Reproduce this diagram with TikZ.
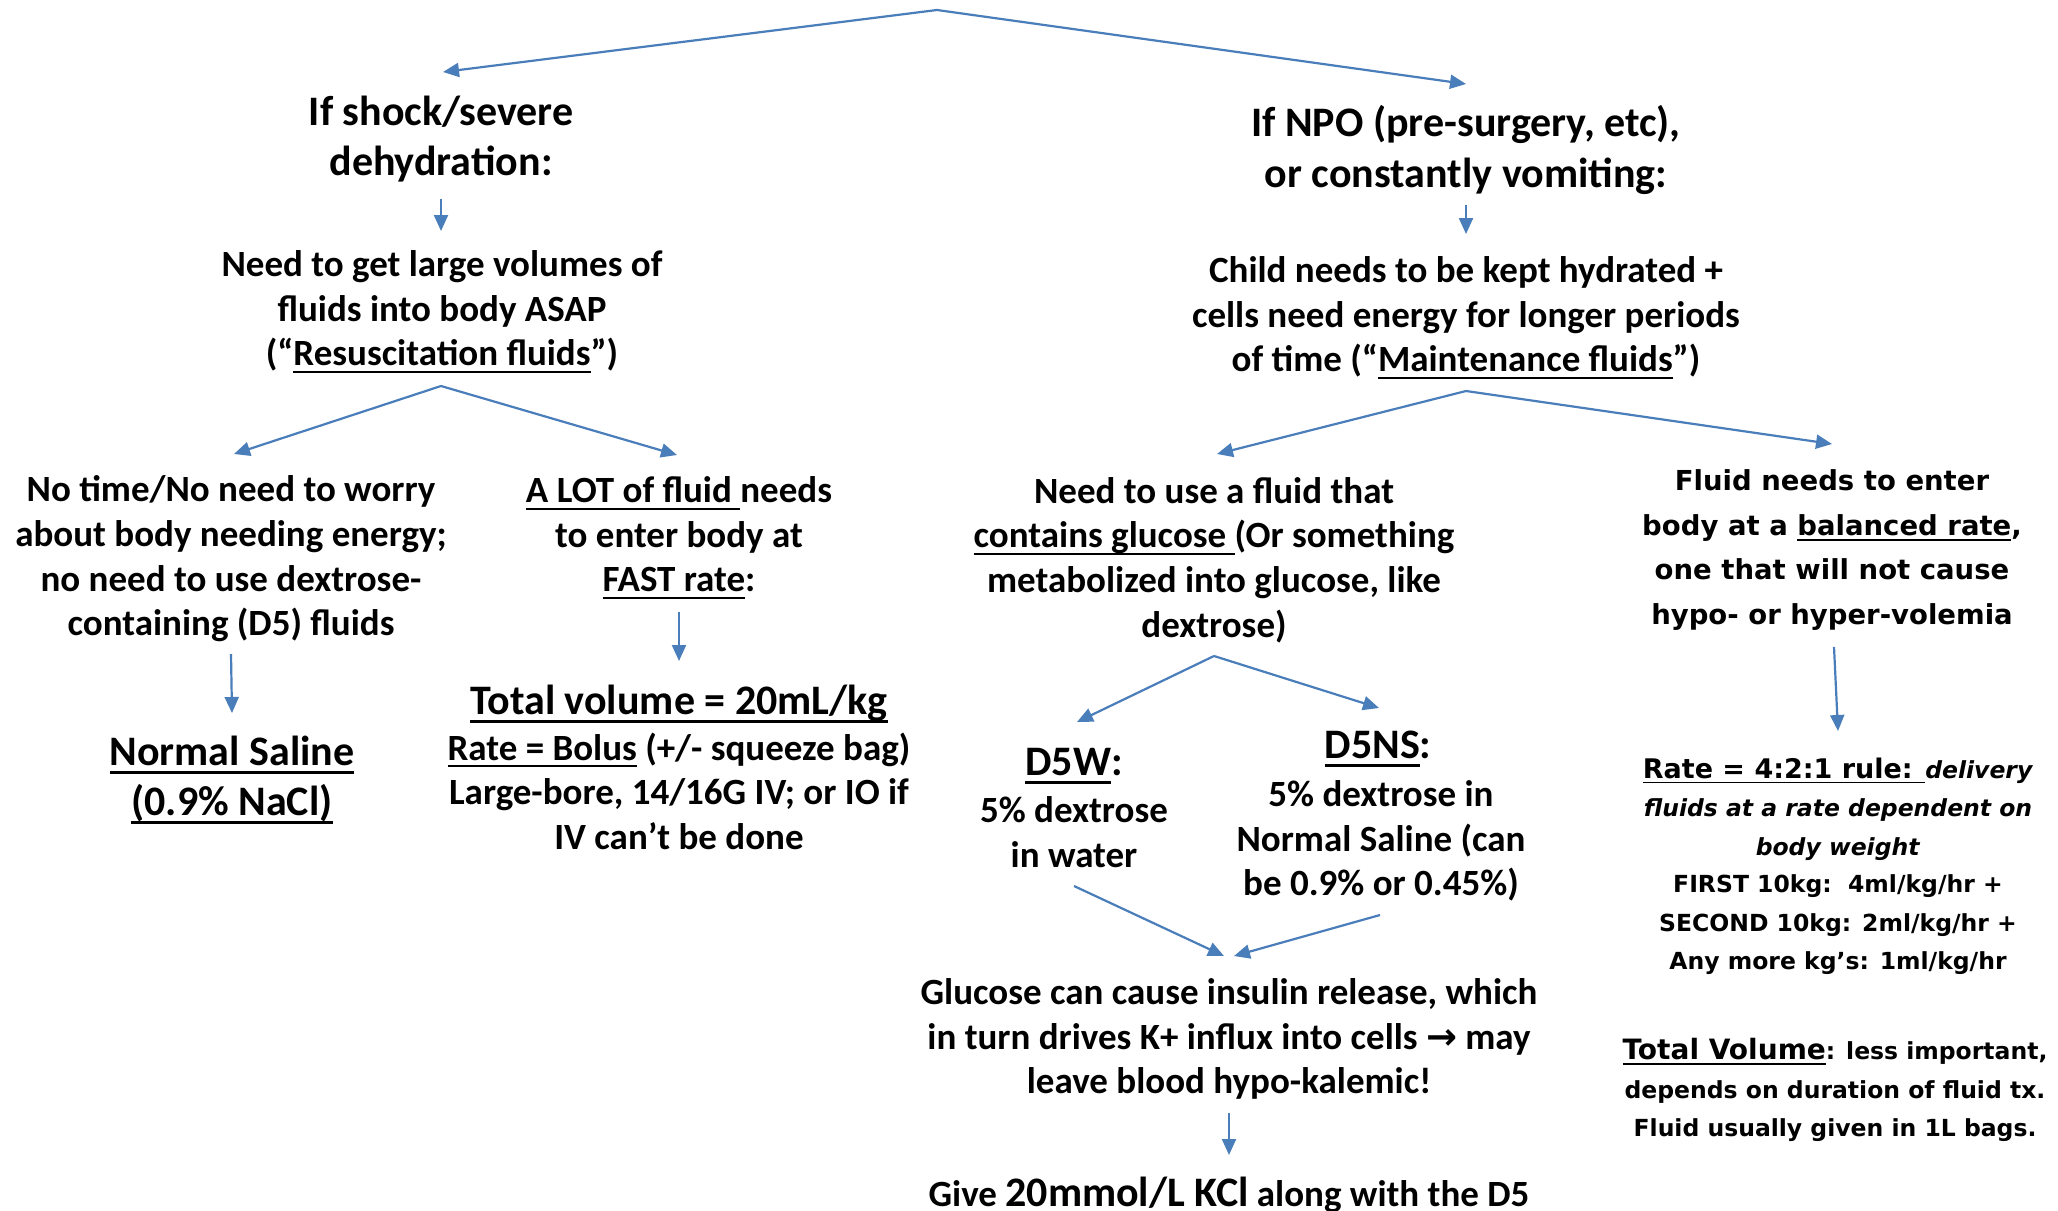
\documentclass[tikz,border=0pt]{standalone}
\usepackage{fontspec}
\setmainfont{Carlito}
\newfontfamily\verd{DejaVu Sans}
\newsavebox{\ulbox}
\newcommand\myul[1]{\leavevmode\sbox{\ulbox}{#1}\rlap{\vrule width\wd\ulbox height -0.13em depth 0.195em}\usebox{\ulbox}}
\usetikzlibrary{arrows.meta}
\definecolor{arrowblue}{RGB}{74,126,187}
\begin{document}
\begin{tikzpicture}[x=1pt,y=-1pt,
  conn/.style={draw=arrowblue, line width=2.2pt, -{Triangle[length=16pt,width=14pt]}},
  txt/.style={align=center, inner sep=0pt, font=\fontsize{37}{44.6}\selectfont\bfseries},
  head/.style={align=center, inner sep=0pt, font=\fontsize{42}{50.5}\selectfont\bfseries},
  rtxt/.style={align=center, inner sep=0pt, font=\verd\fontsize{27.5}{44.6}\selectfont\bfseries},
  rsmall/.style={align=center, inner sep=0pt, font=\verd\fontsize{23.5}{38.5}\selectfont\bfseries}
]
\useasboundingbox (0,0) rectangle (2058,1210);
\clip (0,0) rectangle (2058,1210);
\fill[white] (0,0) rectangle (2058,1210);

% ---------- left branch ----------
\node[head] (shock) at (441,139) {If shock/severe\\dehydration:};
\node[txt] (resus) at (442,312) {Need to get large volumes of\\fluids into body ASAP\\(“\myul{Resuscitation fluids}”)};
\node[txt] (notime) at (231,559) {No time/No need to worry\\about body needing energy;\\no need to use dextrose-\\containing (D5) fluids};
\node[head] (ns) at (232,780) {\myul{Normal Saline}\\\myul{(0.9\% NaCl)}};
\node[txt] (alot) at (679,538) {\myul{A LOT of fluid }needs\\to enter body at\\\myul{FAST rate}:};
\node[head] (totvol) at (679,704) {\myul{Total volume = 20mL/kg}};
\node[txt] (rate) at (679,791) {\myul{Rate = Bolus} (+/- squeeze bag)\\Large-bore, 14/16G IV; or IO if\\IV can’t be done};

% ---------- right branch ----------
\node[head] (npo) at (1466,150) {If NPO (pre-surgery, etc),\\or constantly vomiting:};
\node[txt] (child) at (1466,318) {Child needs to be kept hydrated +\\cells need energy for longer periods\\of time (“\myul{Maintenance fluids}”)};
\node[txt] (gluc) at (1214,560) {Need to use a fluid that\\\myul{contains glucose }(Or something\\metabolized into glucose, like\\dextrose)};
\node[head] (d5w) at (1074,766) {\myul{D5W}:};
\node[txt] (d5wt) at (1074,832) {5\% dextrose\\in water};
\node[head] (d5ns) at (1378,749) {\myul{D5NS}:};
\node[txt] (d5nst) at (1381,841) {5\% dextrose in\\Normal Saline (can\\be 0.9\% or 0.45\%)};
\node[txt] (insulin) at (1229,1039) {Glucose can cause insulin release, which\\in turn drives K+ influx into cells {\verd\bfseries →} may\\leave blood hypo-kalemic!};
\node[txt] (kcl) at (1229,1195) {Give {\fontsize{42}{44.6}\selectfont 20mmol/L KCl} along with the D5};

\node[rtxt] (bal) at (1832,550) {Fluid needs to enter\\body at a \myul{balanced rate},\\one that will not cause\\hypo- or hyper-volemia};
\node[rsmall] (rule) at (1838,809) {{\fontsize{27}{38.5}\selectfont\myul{Rate = 4:2:1 rule: }}\textit{delivery}\\\textit{fluids at a rate dependent on}\\\textit{body weight}};
\node[rsmall] (first) at (1838,925) {FIRST 10kg:\ \ 4ml/kg/hr +\\SECOND 10kg: 2ml/kg/hr +\\Any more kg’s: 1ml/kg/hr};
\node[rsmall] (tv) at (1835,1090) {{\fontsize{28}{38.5}\selectfont\myul{Total Volume}}: less important,\\depends on duration of fluid tx.\\Fluid usually given in 1L bags.};

% ---------- connector points ----------
\coordinate (top) at (937,10);
\coordinate (topL) at (443,72);
\coordinate (topR) at (1466,84);
\coordinate (shockOut) at (441,199);
\coordinate (resusIn) at (441,231);
\coordinate (resusFork) at (441,386);
\coordinate (notimeIn) at (234,454);
\coordinate (alotIn) at (677,455);
\coordinate (notimeOut) at (231,654);
\coordinate (nsIn) at (232,713);
\coordinate (alotOut) at (679,612);
\coordinate (totIn) at (679,661);
\coordinate (npoOut) at (1466,205);
\coordinate (childIn) at (1466,234);
\coordinate (childFork) at (1466,391);
\coordinate (glucIn) at (1217,454);
\coordinate (balIn) at (1832,444);
\coordinate (glucFork) at (1214,656);
\coordinate (d5wIn) at (1077,722);
\coordinate (d5nsIn) at (1379,708);
\coordinate (d5wOut) at (1074,886);
\coordinate (insInL) at (1224,956);
\coordinate (d5nsOut) at (1380,915);
\coordinate (insInR) at (1234,956);
\coordinate (insOut) at (1229,1113);
\coordinate (kclIn) at (1229,1155);
\coordinate (balOut) at (1834,647);
\coordinate (ruleIn) at (1838,731);

\draw[conn] (top) -- (topL);
\draw[conn] (top) -- (topR);
\draw[conn] (shockOut) -- (resusIn);
\draw[conn] (resusFork) -- (notimeIn);
\draw[conn] (resusFork) -- (alotIn);
\draw[conn] (notimeOut) -- (nsIn);
\draw[conn] (alotOut) -- (totIn);
\draw[conn] (npoOut) -- (childIn);
\draw[conn] (childFork) -- (glucIn);
\draw[conn] (childFork) -- (balIn);
\draw[conn] (glucFork) -- (d5wIn);
\draw[conn] (glucFork) -- (d5nsIn);
\draw[conn] (d5wOut) -- (insInL);
\draw[conn] (d5nsOut) -- (insInR);
\draw[conn] (insOut) -- (kclIn);
\draw[conn] (balOut) -- (ruleIn);
\end{tikzpicture}
\end{document}
